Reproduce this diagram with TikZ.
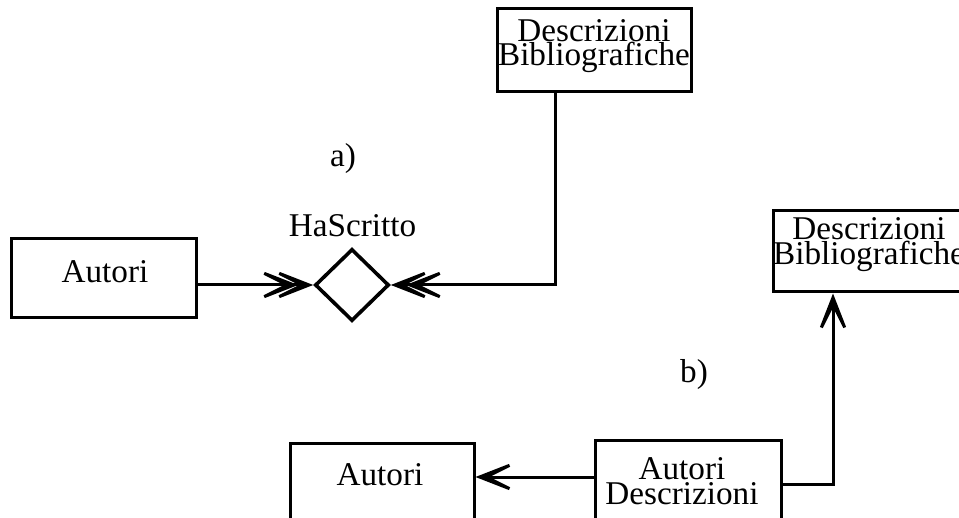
\documentclass[tikz,border=0pt]{standalone}
\usepackage{fontspec}
\setmainfont{Liberation Serif}
\usetikzlibrary{arrows.meta,shapes.geometric,calc}
\begin{document}
\begin{tikzpicture}[x=0.5pt,y=-0.5pt,
  box/.style={draw, line width=1.5pt, inner sep=0pt, rectangle},
  lbl/.style={anchor=base, inner sep=0pt, font=\fontsize{16.6}{12}\selectfont},
  arw/.style={-{Stealth[length=16pt,width=12.5pt,inset=12.5pt,scale=2]}},
  conn/.style={line width=1.5pt}]
\useasboundingbox (0,0) rectangle (959,518);
\clip (0,0) rectangle (959,518);
% a)
\node[box, minimum width=92.5pt, minimum height=39.5pt] (autA) at (103.5,278.5) {};
\node[lbl] (tAutA) at (105,283) {Autori};
\node[draw, diamond, line width=1.8pt, inner sep=0pt, minimum width=37pt, minimum height=36pt] (dia) at (352,285) {};
\node[lbl] (tHas) at (352.5,237) {HaScritto};
\node[lbl] (ta) at (343,167) {a)};
\node[box, minimum width=97pt, minimum height=41.5pt] (descA) at (594,50.5) {};
\node[lbl] (tdA1) at (594,42) {Descrizioni};
\node[lbl] (tdA2) at (594,66) {Bibliografiche};
% b)
\node[box, minimum width=96pt, minimum height=40.5pt] (descB) at (869,251.5) {};
\node[lbl] (tdB1) at (869,240) {Descrizioni};
\node[lbl] (tdB2) at (869,265) {Bibliografiche};
\node[lbl] (tb) at (694,383) {b)};
\node[box, minimum width=93pt, minimum height=50pt] (autDesc) at (688,490) {};
\node[lbl] (tAD1) at (682,480) {Autori};
\node[lbl] (tAD2) at (682,504) {Descrizioni};
\node[box, minimum width=92pt, minimum height=48.5pt] (autB) at (382,491.5) {};
\node[lbl] (tAutB) at (380,485) {Autori};
% connectors
\coordinate (c1) at (555,285);
\coordinate (c2) at (833,484);
\coordinate (c3) at (535,477);
\draw[conn, arw] (autA.east |- dia.west) -- (dia.west);
\draw[conn, arw, shorten >=7.5pt] (autA.east |- dia.west) -- (dia.west);
\draw[conn, arw] (descA.south -| c1) -- (c1) -- (dia.east);
\draw[conn, arw, shorten >=7.5pt] (c1) -- (dia.east);
\draw[conn, arw] (autDesc.east |- c2) -- (c2) -- (descB.south -| c2);
\draw[conn, arw] (autDesc.west |- c3) -- (autB.east |- c3);
\end{tikzpicture}
\end{document}
